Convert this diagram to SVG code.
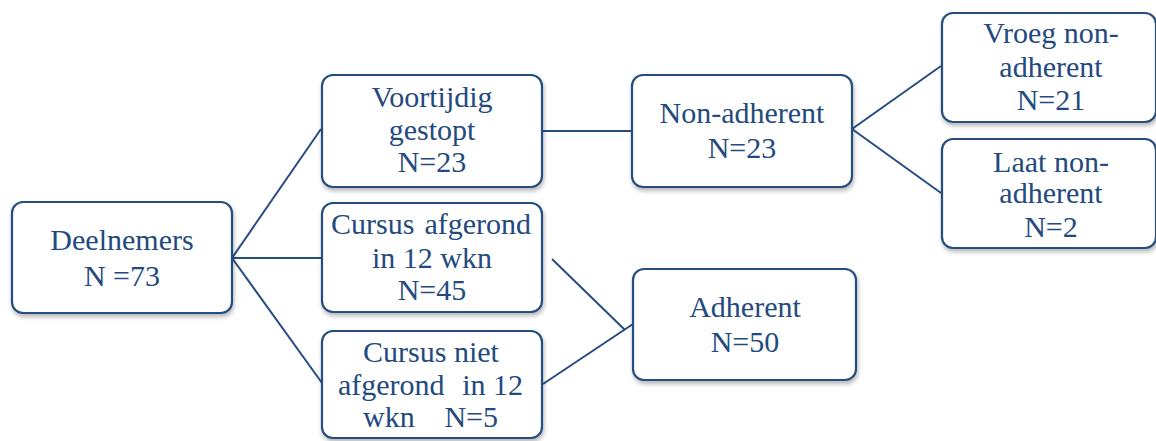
<svg xmlns="http://www.w3.org/2000/svg" width="1156" height="441" viewBox="0 0 1156 441">
<defs>
<filter id="sh" x="-10%" y="-10%" width="120%" height="130%">
<feDropShadow dx="1" dy="3" stdDeviation="2" flood-color="#000" flood-opacity="0.28"/>
</filter>
<style>
.box{fill:#fff;stroke:#274d80;stroke-width:2.2;filter:url(#sh)}
.ln{stroke:#274d80;stroke-width:2;fill:none}
</style>
</defs>
<rect width="1156" height="441" fill="#fff"/>
<g id="connectors">
<line class="ln" x1="232" y1="258" x2="321" y2="129"/>
<line class="ln" x1="232" y1="258" x2="322" y2="258"/>
<line class="ln" x1="232" y1="258" x2="322" y2="383"/>
<line class="ln" x1="542" y1="131" x2="632" y2="131"/>
<line class="ln" x1="552" y1="259" x2="625" y2="330"/>
<line class="ln" x1="543" y1="384" x2="633" y2="324"/>
<line class="ln" x1="852" y1="129" x2="941" y2="66"/>
<line class="ln" x1="852" y1="129" x2="941" y2="193"/>
</g>
<g id="deelnemers">
<rect class="box" x="12" y="202" width="220" height="111" rx="11"/>
<text x="122" y="250" font-family="Liberation Serif" font-size="30" fill="#234a7e" text-anchor="middle">Deelnemers</text>
<text x="122" y="286" font-family="Liberation Serif" font-size="30" fill="#234a7e" text-anchor="middle">N =73</text>
</g>
<g id="voortijdig">
<rect class="box" x="322" y="75" width="220" height="112" rx="11"/>
<text x="432" y="107" font-family="Liberation Serif" font-size="30" fill="#234a7e" text-anchor="middle">Voortijdig</text>
<text x="432" y="140" font-family="Liberation Serif" font-size="30" fill="#234a7e" text-anchor="middle">gestopt</text>
<text x="432" y="172" font-family="Liberation Serif" font-size="30" fill="#234a7e" text-anchor="middle">N=23</text>
</g>
<g id="afgerond">
<rect class="box" x="322" y="203" width="220" height="109" rx="11"/>
<text x="331" y="234" font-family="Liberation Serif" font-size="30" fill="#234a7e">Cursus</text>
<text x="531" y="234" font-family="Liberation Serif" font-size="30" fill="#234a7e" text-anchor="end">afgerond</text>
<text x="432" y="268" font-family="Liberation Serif" font-size="30" fill="#234a7e" text-anchor="middle">in 12 wkn</text>
<text x="432" y="300" font-family="Liberation Serif" font-size="30" fill="#234a7e" text-anchor="middle">N=45</text>
</g>
<g id="niet-afgerond">
<rect class="box" x="322" y="331" width="220" height="107" rx="11"/>
<text x="431" y="362" font-family="Liberation Serif" font-size="30" fill="#234a7e" text-anchor="middle">Cursus niet</text>
<text x="338" y="395" font-family="Liberation Serif" font-size="30" fill="#234a7e">afgerond</text>
<text x="523" y="395" font-family="Liberation Serif" font-size="30" fill="#234a7e" text-anchor="end">in 12</text>
<text x="363" y="427" font-family="Liberation Serif" font-size="30" fill="#234a7e">wkn</text>
<text x="498" y="427" font-family="Liberation Serif" font-size="30" fill="#234a7e" text-anchor="end">N=5</text>
</g>
<g id="non-adherent">
<rect class="box" x="632" y="75" width="220" height="112" rx="11"/>
<text x="742" y="123" font-family="Liberation Serif" font-size="30" fill="#234a7e" text-anchor="middle">Non-adherent</text>
<text x="742" y="158" font-family="Liberation Serif" font-size="30" fill="#234a7e" text-anchor="middle">N=23</text>
</g>
<g id="adherent">
<rect class="box" x="633" y="269" width="223" height="111" rx="11"/>
<text x="745" y="317" font-family="Liberation Serif" font-size="30" fill="#234a7e" text-anchor="middle">Adherent</text>
<text x="745" y="352" font-family="Liberation Serif" font-size="30" fill="#234a7e" text-anchor="middle">N=50</text>
</g>
<g id="vroeg">
<rect class="box" x="942" y="13" width="214" height="109" rx="11"/>
<text x="1051" y="43" font-family="Liberation Serif" font-size="30" fill="#234a7e" text-anchor="middle">Vroeg non-</text>
<text x="1051" y="77" font-family="Liberation Serif" font-size="30" fill="#234a7e" text-anchor="middle">adherent</text>
<text x="1051" y="110" font-family="Liberation Serif" font-size="30" fill="#234a7e" text-anchor="middle">N=21</text>
</g>
<g id="laat">
<rect class="box" x="942" y="139" width="214" height="109" rx="11"/>
<text x="1051" y="172" font-family="Liberation Serif" font-size="30" fill="#234a7e" text-anchor="middle">Laat non-</text>
<text x="1051" y="203" font-family="Liberation Serif" font-size="30" fill="#234a7e" text-anchor="middle">adherent</text>
<text x="1051" y="237" font-family="Liberation Serif" font-size="30" fill="#234a7e" text-anchor="middle">N=2</text>
</g>
</svg>
